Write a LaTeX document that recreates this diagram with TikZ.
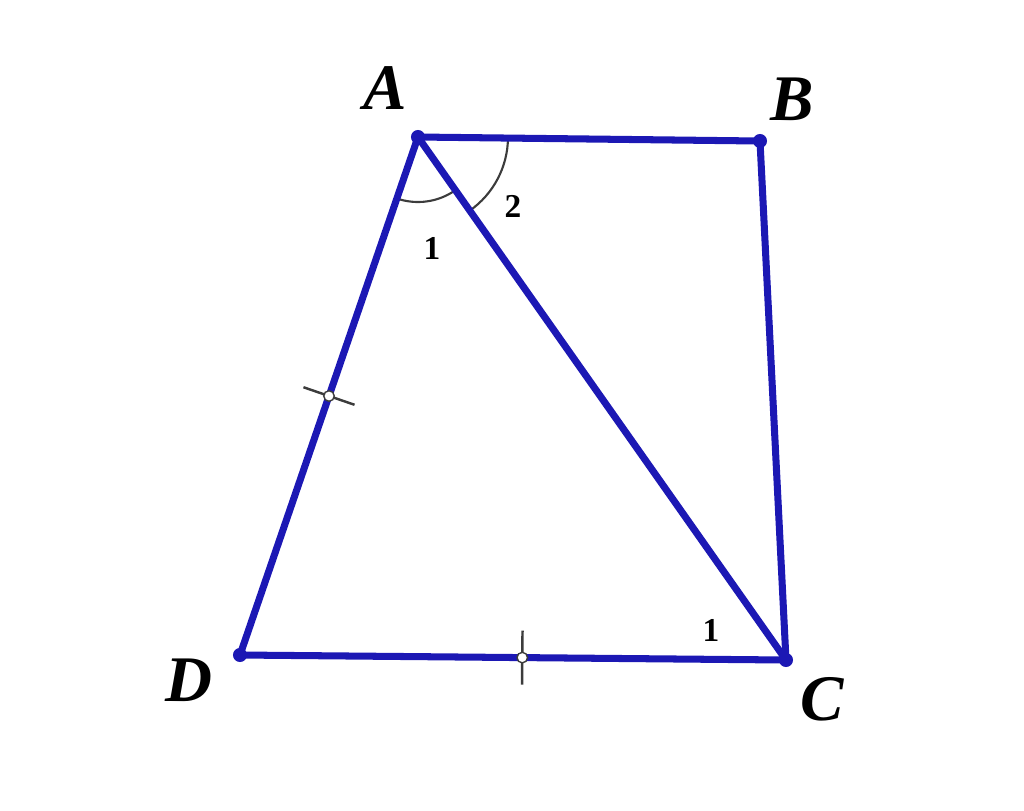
\documentclass[tikz,border=0pt]{standalone}
\usepackage{fontspec}
\setmainfont{Liberation Serif}
\usetikzlibrary{angles,calc}
\definecolor{edgeblue}{RGB}{28,24,180}
\definecolor{markgray}{RGB}{60,60,60}

\begin{document}
\begin{tikzpicture}[
    edge/.style={draw=edgeblue, line width=2pt, line cap=round, line join=round},
    vertex/.style={circle, fill=edgeblue, inner sep=0pt, minimum size=4pt},
    vlabel/.style={font=\fontsize{18.5}{18.5}\selectfont\bfseries\itshape},
    alabel/.style={font=\fontsize{9.5}{9.5}\selectfont\bfseries},
    anglemark/.style={draw=markgray, line width=0.6pt},
    tickmark/.style={draw=markgray, line width=0.7pt},
    hole/.style={circle, draw=markgray, fill=white, line width=0.4pt, inner sep=0pt, minimum size=3pt}
]
    \useasboundingbox (0,0) rectangle (10.24,-8.10);

    % vertices of the trapezoid
    \coordinate (A) at (4.18,-1.37);
    \coordinate (B) at (7.60,-1.41);
    \coordinate (C) at (7.86,-6.60);
    \coordinate (D) at (2.40,-6.55);

    % angle arcs at A
    \pic[anglemark, angle radius=0.65cm] {angle=D--A--C};
    \pic[anglemark, angle radius=0.90cm] {angle=C--A--B};

    % sides and diagonal
    \draw[edge] (A) -- (B) -- (C) -- (D) -- cycle;
    \draw[edge] (A) -- (C);

    % equal-length ticks
    \path (A) -- (D) coordinate[pos=0.5] (mAD);
    \path (D) -- (C) coordinate[pos=0.517] (mDC);
    \draw[tickmark] ($(mAD)!0.27cm!90:(D)$) -- ($(mAD)!0.27cm!-90:(D)$);
    \draw[tickmark] ($(mDC)!0.27cm!90:(C)$) -- ($(mDC)!0.27cm!-90:(C)$);
    \node[hole] (hAD) at (mAD) {};
    \node[hole] (hDC) at (mDC) {};

    \foreach \p in {A,B,C,D}
        \node[vertex] (v\p) at (\p) {};

    % vertex labels
    \node[vlabel] (lA) at (3.85,-0.88) {A};
    \node[vlabel] (lB) at (7.92,-0.99) {B};
    \node[vlabel] (lC) at (8.22,-6.99) {C};
    \node[vlabel] (lD) at (1.89,-6.80) {D};

    % angle labels
    \node[alabel] (a1) at (4.32,-2.48) {1};
    \node[alabel] (a2) at (5.13,-2.06) {2};
    \node[alabel] (c1) at (7.11,-6.30) {1};
\end{tikzpicture}
\end{document}
